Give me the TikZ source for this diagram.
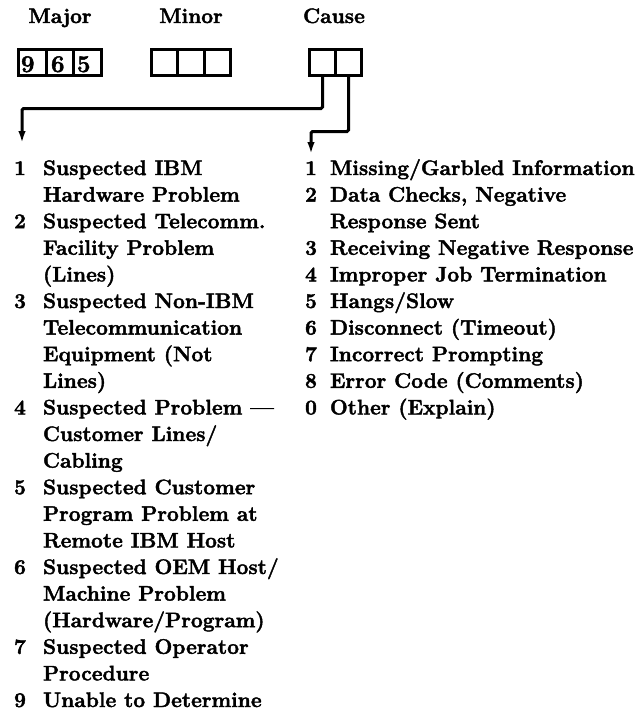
\documentclass[tikz,border=0pt]{standalone}
\usepackage{fontspec}
\newfontfamily\heavyfont{lmroman12-bold.otf}[FakeBold=2,Ligatures=TeX]
\usetikzlibrary{arrows.meta}
\tikzset{
  cell/.style={draw, line width=3.2pt, minimum width=#1, minimum height=26pt, inner sep=0pt, outer sep=0pt},
  txt/.style={inner sep=0pt, outer sep=0pt, anchor=base west, font=\fontsize{21}{26}\heavyfont},
  dig/.style={inner sep=0pt, outer sep=0pt, anchor=base west, font=\fontsize{24}{26}\heavyfont},
  num/.style={inner sep=0pt, outer sep=0pt, anchor=base, font=\fontsize{21}{26}\heavyfont},
  ttl/.style={inner sep=0pt, outer sep=0pt, anchor=base, font=\fontsize{21}{26}\heavyfont},
  conn/.style={line width=3pt, rounded corners=1.5pt, -{Latex[length=12pt,width=7.5pt]}}
}
\begin{document}
\begin{tikzpicture}[x=1pt,y=-1pt]
\useasboundingbox (0,0) rectangle (642,710);
% titles
\node[ttl] (tmaj) at (60,23) {Major};
\node[ttl] (tmin) at (191,23) {Minor};
\node[ttl] (tcau) at (334,23) {Cause};
% major cells
\node[cell=27.67pt] (mj1) at (32.3,62.5) {};
\node[cell=27.67pt] (mj2) at (60,62.5) {};
\node[cell=27.67pt] (mj3) at (87.7,62.5) {};
\node[dig] (d9) at (21,72) {9};
\node[dig] (d6) at (51,72) {6};
\node[dig] (d5) at (77,72) {5};
% minor cells
\node[cell=26.33pt] (mn1) at (164.7,62.5) {};
\node[cell=26.33pt] (mn2) at (191,62.5) {};
\node[cell=26.33pt] (mn3) at (217.3,62.5) {};
% cause cells
\node[cell=26pt] (cs1) at (322.5,62.5) {};
\node[cell=26pt] (cs2) at (348.5,62.5) {};
% arrow ends
\coordinate (a1) at (22,143);
\coordinate (a2) at (311,154);
\draw[conn] (cs1.south) -- ++(0,33) -| (a1);
\draw[conn] (cs2.south) -- ++(0,56) -| (a2);
% left column
\def\ya{175}\def\dy{26.6}
\node[num] (ln1) at (20,{\ya+0*\dy}) {1};
\node[txt] (l0) at (43,{\ya+0*\dy}) {Suspected IBM};
\node[txt] (l1) at (43,{\ya+1*\dy}) {Hardware Problem};
\node[num] (ln2) at (20,{\ya+2*\dy}) {2};
\node[txt] (l2) at (43,{\ya+2*\dy}) {Suspected Telecomm.};
\node[txt] (l3) at (43,{\ya+3*\dy}) {Facility Problem};
\node[txt] (l4) at (43,{\ya+4*\dy}) {(Lines)};
\node[num] (ln3) at (20,{\ya+5*\dy}) {3};
\node[txt] (l5) at (43,{\ya+5*\dy}) {Suspected Non-IBM};
\node[txt] (l6) at (43,{\ya+6*\dy}) {Telecommunication};
\node[txt] (l7) at (43,{\ya+7*\dy}) {Equipment (Not};
\node[txt] (l8) at (43,{\ya+8*\dy}) {Lines)};
\node[num] (ln4) at (20,{\ya+9*\dy}) {4};
\node[txt] (l9) at (43,{\ya+9*\dy}) {Suspected Problem ---};
\node[txt] (l10) at (43,{\ya+10*\dy}) {Customer Lines/};
\node[txt] (l11) at (43,{\ya+11*\dy}) {Cabling};
\node[num] (ln5) at (20,{\ya+12*\dy}) {5};
\node[txt] (l12) at (43,{\ya+12*\dy}) {Suspected Customer};
\node[txt] (l13) at (43,{\ya+13*\dy}) {Program Problem at};
\node[txt] (l14) at (43,{\ya+14*\dy}) {Remote IBM Host};
\node[num] (ln6) at (20,{\ya+15*\dy}) {6};
\node[txt] (l15) at (43,{\ya+15*\dy}) {Suspected OEM Host/};
\node[txt] (l16) at (43,{\ya+16*\dy}) {Machine Problem};
\node[txt] (l17) at (43,{\ya+17*\dy}) {(Hardware/Program)};
\node[num] (ln7) at (20,{\ya+18*\dy}) {7};
\node[txt] (l18) at (43,{\ya+18*\dy}) {Suspected Operator};
\node[txt] (l19) at (43,{\ya+19*\dy}) {Procedure};
\node[num] (ln9) at (20,{\ya+20*\dy}) {9};
\node[txt] (l20) at (43,{\ya+20*\dy}) {Unable to Determine};
% right column
\node[num] (rn1) at (311,{\ya+0*\dy}) {1};
\node[txt] (r0) at (330,{\ya+0*\dy}) {Missing/Garbled Information};
\node[num] (rn2) at (311,{\ya+1*\dy}) {2};
\node[txt] (r1) at (330,{\ya+1*\dy}) {Data Checks, Negative};
\node[txt] (r2) at (330,{\ya+2*\dy}) {Response Sent};
\node[num] (rn3) at (311,{\ya+3*\dy}) {3};
\node[txt] (r3) at (330,{\ya+3*\dy}) {Receiving Negative Response};
\node[num] (rn4) at (311,{\ya+4*\dy}) {4};
\node[txt] (r4) at (330,{\ya+4*\dy}) {Improper Job Termination};
\node[num] (rn5) at (311,{\ya+5*\dy}) {5};
\node[txt] (r5) at (330,{\ya+5*\dy}) {Hangs/Slow};
\node[num] (rn6) at (311,{\ya+6*\dy}) {6};
\node[txt] (r6) at (330,{\ya+6*\dy}) {Disconnect (Timeout)};
\node[num] (rn7) at (311,{\ya+7*\dy}) {7};
\node[txt] (r7) at (330,{\ya+7*\dy}) {Incorrect Prompting};
\node[num] (rn8) at (311,{\ya+8*\dy}) {8};
\node[txt] (r8) at (330,{\ya+8*\dy}) {Error Code (Comments)};
\node[num] (rn0) at (311,{\ya+9*\dy}) {0};
\node[txt] (r9) at (330,{\ya+9*\dy}) {Other (Explain)};
\end{tikzpicture}
\end{document}
